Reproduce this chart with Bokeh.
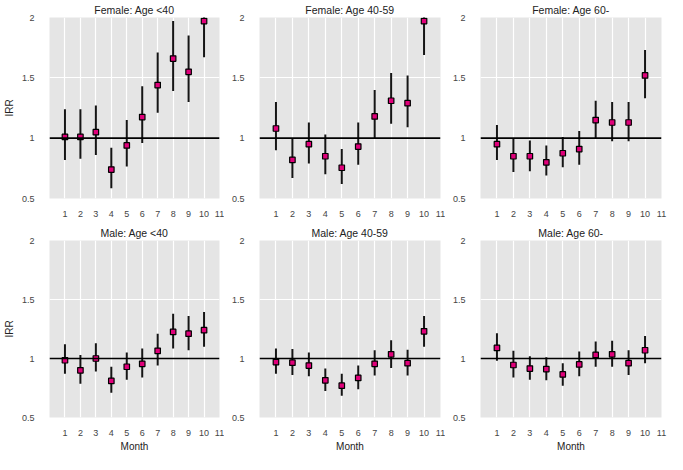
from bokeh.plotting import figure
from bokeh.layouts import column, row
from bokeh.models import Range1d, FixedTicker, NumeralTickFormatter, Span, ColumnDataSource
from bokeh.embed import file_html
from bokeh.resources import INLINE

months = [1, 2, 3, 4, 5, 6, 7, 8, 9, 10]
x_ticks = [1, 2, 3, 4, 5, 6, 7, 8, 9, 10, 11]
y_ticks = [0.5, 1, 1.5, 2]

titles = ["Female: Age <40", "Female: Age 40-59", "Female: Age 60-",
          "Male: Age <40", "Male: Age 40-59", "Male: Age 60-"]

f_lt40_est = [1.01, 1.01, 1.05, 0.74, 0.94, 1.175, 1.44, 1.66, 1.55, 1.97]
f_lt40_lo = [0.82, 0.83, 0.86, 0.585, 0.765, 0.96, 1.21, 1.39, 1.30, 1.67]
f_lt40_hi = [1.24, 1.24, 1.27, 0.92, 1.15, 1.43, 1.71, 1.97, 1.85, 2.30]

f_4059_est = [1.08, 0.82, 0.95, 0.85, 0.755, 0.93, 1.18, 1.31, 1.29, 1.97]
f_4059_lo = [0.90, 0.67, 0.79, 0.70, 0.62, 0.78, 0.995, 1.12, 1.09, 1.69]
f_4059_hi = [1.30, 1.00, 1.13, 1.03, 0.91, 1.13, 1.40, 1.54, 1.52, 2.28]

f_60_est = [0.95, 0.85, 0.85, 0.80, 0.875, 0.91, 1.15, 1.13, 1.13, 1.52]
f_60_lo = [0.82, 0.72, 0.725, 0.69, 0.76, 0.78, 1.0, 0.975, 0.975, 1.33]
f_60_hi = [1.11, 1.0, 0.98, 0.94, 1.01, 1.06, 1.31, 1.30, 1.30, 1.73]

m_lt40_est = [0.985, 0.90, 1.0, 0.81, 0.93, 0.955, 1.065, 1.225, 1.21, 1.24]
m_lt40_lo = [0.87, 0.785, 0.89, 0.71, 0.82, 0.84, 0.94, 1.085, 1.07, 1.10]
m_lt40_hi = [1.12, 1.03, 1.13, 0.93, 1.05, 1.085, 1.21, 1.38, 1.36, 1.395]

m_4059_est = [0.97, 0.965, 0.94, 0.815, 0.77, 0.835, 0.955, 1.035, 0.96, 1.23]
m_4059_lo = [0.87, 0.86, 0.85, 0.725, 0.685, 0.74, 0.855, 0.92, 0.855, 1.10]
m_4059_hi = [1.085, 1.08, 1.05, 0.915, 0.87, 0.94, 1.07, 1.155, 1.075, 1.36]

m_60_est = [1.09, 0.945, 0.915, 0.91, 0.865, 0.95, 1.03, 1.035, 0.96, 1.07]
m_60_lo = [0.98, 0.84, 0.82, 0.815, 0.77, 0.85, 0.93, 0.93, 0.86, 0.96]
m_60_hi = [1.215, 1.065, 1.02, 1.01, 0.96, 1.06, 1.145, 1.15, 1.07, 1.19]

panels = [
    (f_lt40_est, f_lt40_lo, f_lt40_hi),
    (f_4059_est, f_4059_lo, f_4059_hi),
    (f_60_est, f_60_lo, f_60_hi),
    (m_lt40_est, m_lt40_lo, m_lt40_hi),
    (m_4059_est, m_4059_lo, m_4059_hi),
    (m_60_est, m_60_lo, m_60_hi),
]

FONT = "Liberation Sans"
BG = "#e5e5e5"
PINK = "#e0007a"

col_widths = [224, 221, 222]
col_left = [38, 35, 35]
col_right = [5, 5, 6]
row_heights = [222, 232]
row_top = [17, 18]
row_bottom = [24, 32]


def make_panel(i):
    r, c = divmod(i, 3)
    est, lo, hi = panels[i]
    src = ColumnDataSource(dict(month=months, est=est, lo=lo, hi=hi))
    p = figure(width=col_widths[c], height=row_heights[r],
               x_range=Range1d(0, 11), y_range=Range1d(0.5, 2),
               output_backend="svg", toolbar_location=None,
               min_border_left=col_left[c], min_border_right=col_right[c],
               min_border_top=row_top[r], min_border_bottom=row_bottom[r],
               background_fill_color=BG, border_fill_color="white",
               outline_line_color=None, title=titles[i])
    p.title.align = "center"
    p.title.text_font = FONT
    p.title.text_font_size = "10.5px"
    p.title.text_font_style = "normal"
    p.title.text_color = "#222222"
    p.title.standoff = 3

    p.xgrid.ticker = FixedTicker(ticks=x_ticks)
    p.ygrid.ticker = FixedTicker(ticks=y_ticks)
    p.grid.grid_line_color = "white"
    p.grid.grid_line_width = 1.2

    for ax in (p.xaxis[0], p.yaxis[0]):
        ax.axis_line_color = None
        ax.major_tick_line_color = None
        ax.minor_tick_line_color = None
        ax.major_label_text_font = FONT
        ax.major_label_text_font_size = "9px"
        ax.major_label_text_color = "#444444"
        ax.axis_label_text_font = FONT
        ax.axis_label_text_font_size = "10px"
        ax.axis_label_text_font_style = "normal"
        ax.axis_label_text_color = "#222222"
    p.xaxis.ticker = FixedTicker(ticks=x_ticks)
    p.yaxis.ticker = FixedTicker(ticks=y_ticks)
    p.yaxis.formatter = NumeralTickFormatter(format="0.[0]")
    p.yaxis.major_label_standoff = 9
    p.xaxis.major_label_standoff = 6
    if c == 0:
        p.yaxis.axis_label = "IRR"
        p.yaxis.axis_label_standoff = 4
    if r == 1:
        p.xaxis.axis_label = "Month"
        p.xaxis.axis_label_standoff = 2

    p.add_layout(Span(location=1, dimension="width", line_color="black", line_width=1.6))
    p.segment(x0="month", y0="lo", x1="month", y1="hi", source=src,
              line_color="#151515", line_width=2)
    p.scatter(x="month", y="est", source=src, marker="square", size=5.5,
              fill_color=PINK, line_color="black", line_width=1.2)
    return p


figs = [make_panel(i) for i in range(6)]
layout = column(row(*figs[:3]), row(*figs[3:]))

open("out.html", "w").write(file_html(layout, INLINE))
